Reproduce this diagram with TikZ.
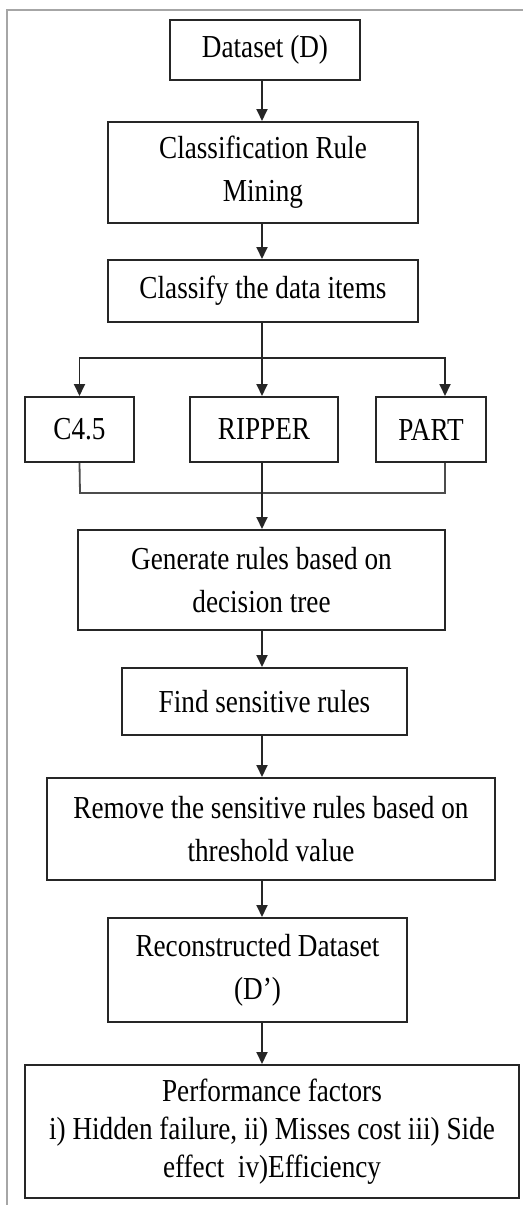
\documentclass[tikz,border=0pt]{standalone}
\usepackage{fontspec}
\setmainfont[FakeStretch=0.85]{Liberation Serif}
\usetikzlibrary{arrows.meta,positioning,calc}
\tikzstyle{block} = [draw=black!85, shape=rectangle, line width=1pt, align=center, inner sep=0pt, font=\fontsize{16}{21.5}\selectfont]
\tikzstyle{Arrow} = [->, >={Triangle[length=6pt,width=5.5pt]}, line width=0.9pt, black!85]
\tikzstyle{link} = [line width=0.9pt, black!70]

\begin{document}
\begin{tikzpicture}[x=0.5pt,y=-0.5pt]
            \useasboundingbox (0,0) rectangle (523,1205);
            %%%%% Frame %%%%%
            \draw[black!35, line width=0.8pt] (523,10) -- (7,10) -- (7,1205);
            \coordinate (spine) at (262,0);
            %%%%% Top part %%%%%
            \node (data) [block, minimum width=95pt, minimum height=30pt] at (265,50) {Dataset (D)};
            \node (crm) [block, minimum width=155pt, minimum height=50.5pt] at (263,172.5) {Classification Rule\\Mining};
            \node (classify) [block, minimum width=155pt, minimum height=31pt] at (263,291) {Classify the data items};
            \draw [Arrow] (data.south -| spine) -- (crm.north -| spine);
            \draw [Arrow] (crm.south -| spine) -- (classify.north -| spine);
            %%%%% Classifiers %%%%%
            \node (c45) [block, minimum width=54.5pt, minimum height=32.5pt] at (79.5,429.5) {C4.5};
            \node (ripper) [block, minimum width=74pt, minimum height=32.5pt] at (264,429.5) {RIPPER};
            \node (part) [block, minimum width=55pt, minimum height=32.5pt] at (431,429.5) {PART};
            \coordinate (split) at (262,358);
            \coordinate (splitR) at (445,358);
            \coordinate (mergeL) at (80,493);
            \coordinate (mergeR) at (445,493);
            \draw [Arrow] (classify.south -| spine) -- (ripper.north -| spine);
            \draw [Arrow] (split) -| (c45.north);
            \draw [Arrow] (split) -- (splitR) -- (splitR |- part.north);
            \draw [link] (c45.south) -- (mergeL) -- (mergeR) -- (mergeR |- part.south);
            %%%%% Rules %%%%%
            \node (gen) [block, minimum width=183.5pt, minimum height=50pt] at (261.5,580) {Generate rules based on\\decision tree};
            \node (find) [block, minimum width=142.5pt, minimum height=33.5pt] at (264.5,701.5) {Find sensitive rules};
            \node (remove) [block, minimum width=224pt, minimum height=51pt] at (271,829) {Remove the sensitive rules based on\\threshold value};
            \draw [Arrow] (ripper.south -| spine) -- (gen.north -| spine);
            \draw [Arrow] (gen.south -| spine) -- (find.north -| spine);
            \draw [Arrow] (find.south -| spine) -- (remove.north -| spine);
            %%%%% Output %%%%%
            \node (recon) [block, minimum width=149.5pt, minimum height=52pt] at (257.5,970) {Reconstructed Dataset\\(D’)};
            \node (perf) [block, minimum width=247pt, minimum height=66.5pt, font=\fontsize{16}{19}\selectfont] at (272,1131.5) {Performance factors\\i) Hidden failure, ii) Misses cost iii) Side\\effect\ \ iv)Efficiency};
            \draw [Arrow] (remove.south -| spine) -- (recon.north -| spine);
            \draw [Arrow] (recon.south -| spine) -- (perf.north -| spine);
\end{tikzpicture}
\end{document}
